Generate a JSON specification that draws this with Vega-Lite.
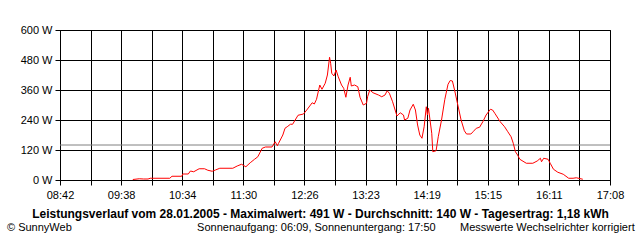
{
  "$schema": "https://vega.github.io/schema/vega-lite/v6.json",
  "width": 550,
  "height": 150,
  "autosize": {"type": "none"},
  "padding": {"left": 60, "top": 30, "right": 30, "bottom": 60},
  "background": "white",
  "config": {
    "view": {"stroke": "black", "strokeWidth": 1},
    "font": "Liberation Sans",
    "axisY": {
      "values": [0, 120, 240, 360, 480, 600],
      "labelExpr": "datum.value + ' W'",
      "grid": true,
      "gridColor": "black",
      "gridOpacity": 1,
      "gridWidth": 1,
      "domainColor": "black",
      "tickColor": "black",
      "tickSize": 5,
      "labelFont": "Liberation Sans",
      "labelFontSize": 11,
      "labelColor": "black",
      "labelPadding": 3,
      "labelFlush": false,
      "labelOverlap": false,
      "title": null
    }
  },
  "title": {
    "text": "© SunnyWeb\u00a0\u00a0\u00a0\u00a0\u00a0\u00a0\u00a0\u00a0\u00a0\u00a0\u00a0\u00a0\u00a0\u00a0\u00a0\u00a0\u00a0\u00a0\u00a0\u00a0\u00a0\u00a0\u00a0\u00a0\u00a0\u00a0\u00a0\u00a0\u00a0\u00a0\u00a0\u00a0\u00a0\u00a0\u00a0\u00a0\u00a0\u00a0\u00a0\u00a0\u00a0Sonnenaufgang: 06:09, Sonnenuntergang: 17:50\u00a0\u00a0\u00a0\u00a0\u00a0\u00a0\u00a0\u00a0Messwerte Wechselrichter korrigiert",
    "orient": "bottom",
    "anchor": "start",
    "frame": "group",
    "dx": -53,
    "offset": 3,
    "font": "Liberation Sans",
    "fontSize": 11,
    "fontWeight": "normal",
    "color": "black"
  },
  "layer": [
    {
      "data": {"values": [{"avg": 140}]},
      "mark": {"type": "rule", "color": "#808080", "strokeWidth": 1},
      "encoding": {
        "y": {
          "field": "avg",
          "type": "quantitative",
          "scale": {"domain": [0, 600], "nice": false},
          "axis": {"values": [0, 120, 240, 360, 480, 600], "labelExpr": "datum.value + ' W'", "title": null}
        }
      }
    },
    {
      "data": {"values": [
        {"t": 589, "w": 2}, {"t": 595, "w": 5}, {"t": 599, "w": 4}, {"t": 603, "w": 4}, {"t": 605, "w": 7},
        {"t": 623, "w": 7}, {"t": 625, "w": 15}, {"t": 634, "w": 15}, {"t": 635, "w": 24}, {"t": 640, "w": 24},
        {"t": 642, "w": 36}, {"t": 645, "w": 33}, {"t": 650, "w": 45}, {"t": 655, "w": 45}, {"t": 658, "w": 39},
        {"t": 662, "w": 35}, {"t": 665, "w": 40}, {"t": 669, "w": 47}, {"t": 681, "w": 47}, {"t": 685, "w": 56},
        {"t": 689, "w": 63}, {"t": 693, "w": 53}, {"t": 697, "w": 69}, {"t": 701, "w": 83}, {"t": 704, "w": 93},
        {"t": 708, "w": 127}, {"t": 711, "w": 132}, {"t": 717, "w": 132}, {"t": 720, "w": 153}, {"t": 722, "w": 137},
        {"t": 723, "w": 146}, {"t": 727, "w": 180}, {"t": 729, "w": 207}, {"t": 731, "w": 213}, {"t": 734, "w": 223},
        {"t": 736, "w": 223}, {"t": 741, "w": 259}, {"t": 746, "w": 264}, {"t": 749, "w": 280}, {"t": 754, "w": 309},
        {"t": 756, "w": 304}, {"t": 758, "w": 323}, {"t": 761, "w": 380}, {"t": 763, "w": 363}, {"t": 766, "w": 387},
        {"t": 768, "w": 420}, {"t": 770, "w": 491}, {"t": 771, "w": 467}, {"t": 772, "w": 427}, {"t": 774, "w": 416},
        {"t": 776, "w": 440}, {"t": 778, "w": 413}, {"t": 781, "w": 380}, {"t": 783, "w": 367}, {"t": 785, "w": 331},
        {"t": 787, "w": 380}, {"t": 789, "w": 411}, {"t": 790, "w": 376}, {"t": 793, "w": 380}, {"t": 796, "w": 373},
        {"t": 798, "w": 331}, {"t": 801, "w": 300}, {"t": 804, "w": 307}, {"t": 805, "w": 333}, {"t": 807, "w": 360},
        {"t": 810, "w": 349}, {"t": 815, "w": 340}, {"t": 818, "w": 333}, {"t": 821, "w": 340}, {"t": 823, "w": 357},
        {"t": 825, "w": 347}, {"t": 828, "w": 313}, {"t": 832, "w": 256}, {"t": 835, "w": 269}, {"t": 838, "w": 260},
        {"t": 839, "w": 240}, {"t": 842, "w": 247}, {"t": 844, "w": 280}, {"t": 847, "w": 303}, {"t": 849, "w": 280},
        {"t": 851, "w": 220}, {"t": 853, "w": 180}, {"t": 855, "w": 167}, {"t": 857, "w": 213}, {"t": 859, "w": 293},
        {"t": 860, "w": 260}, {"t": 861, "w": 287}, {"t": 864, "w": 187}, {"t": 865, "w": 113}, {"t": 868, "w": 117},
        {"t": 870, "w": 173}, {"t": 873, "w": 240}, {"t": 876, "w": 322}, {"t": 879, "w": 383}, {"t": 881, "w": 398},
        {"t": 883, "w": 396}, {"t": 885, "w": 360}, {"t": 888, "w": 300}, {"t": 891, "w": 240}, {"t": 894, "w": 197},
        {"t": 896, "w": 184}, {"t": 900, "w": 184}, {"t": 902, "w": 193}, {"t": 905, "w": 207}, {"t": 908, "w": 211},
        {"t": 911, "w": 233}, {"t": 914, "w": 260}, {"t": 918, "w": 283}, {"t": 920, "w": 280}, {"t": 922, "w": 267},
        {"t": 927, "w": 233}, {"t": 931, "w": 213}, {"t": 934, "w": 193}, {"t": 937, "w": 173}, {"t": 939, "w": 147},
        {"t": 941, "w": 113}, {"t": 943, "w": 100}, {"t": 945, "w": 83}, {"t": 951, "w": 67}, {"t": 957, "w": 67},
        {"t": 961, "w": 76}, {"t": 964, "w": 87}, {"t": 965, "w": 73}, {"t": 967, "w": 87}, {"t": 971, "w": 83},
        {"t": 973, "w": 67}, {"t": 976, "w": 43}, {"t": 980, "w": 31}, {"t": 985, "w": 23}, {"t": 990, "w": 7},
        {"t": 994, "w": 7}, {"t": 997, "w": 9}, {"t": 1003, "w": 3}
      ]},
      "mark": {"type": "line", "color": "#ff0000", "strokeWidth": 1},
      "encoding": {
        "x": {
          "field": "t",
          "type": "quantitative",
          "scale": {"domain": [522, 1028], "nice": false, "zero": false},
          "axis": {
            "values": [522, 550.111, 578.222, 606.333, 634.444, 662.556, 690.667, 718.778, 746.889, 775, 803.111, 831.222, 859.333, 887.444, 915.556, 943.667, 971.778, 999.889, 1028],
            "labelExpr": "round((datum.value-522)/28.1111) % 2 == 0 ? (floor(datum.value/60) < 10 ? '0' : '') + floor(datum.value/60) + ':' + (floor(datum.value%60) < 10 ? '0' : '') + floor(datum.value%60) : ''",
            "grid": true,
            "gridColor": "black",
            "gridOpacity": 1,
            "gridWidth": 1,
            "domainColor": "black",
            "tickColor": "black",
            "tickSize": 5,
            "labelFont": "Liberation Sans",
            "labelFontSize": 11,
            "labelColor": "black",
            "labelPadding": 4,
            "labelFlush": false,
            "labelOverlap": false,
            "title": "Leistungsverlauf vom 28.01.2005 - Maximalwert: 491 W - Durchschnitt: 140 W - Tagesertrag: 1,18 kWh",
            "titleFont": "Liberation Sans",
            "titleFontSize": 12,
            "titleFontWeight": "bold",
            "titleColor": "black",
            "titlePadding": 8,
            "titleX": 260,
            "titleAlign": "center"
          }
        },
        "y": {
          "field": "w",
          "type": "quantitative",
          "scale": {"domain": [0, 600], "nice": false},
          "axis": {"values": [0, 120, 240, 360, 480, 600], "labelExpr": "datum.value + ' W'", "title": null}
        }
      }
    }
  ]
}
